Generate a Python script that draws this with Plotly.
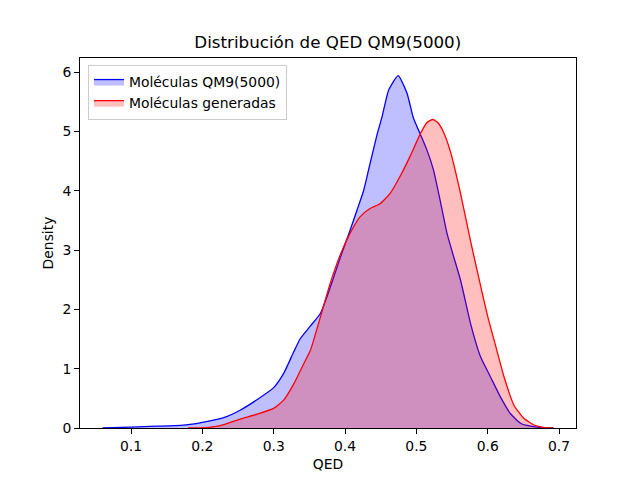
import plotly.graph_objects as go

# QED density estimates (x = QED, y = density)
qm9_x = [0.060, 0.100, 0.136, 0.170, 0.183, 0.202, 0.230, 0.253, 0.277, 0.300,
         0.314, 0.328, 0.337, 0.3515, 0.3655, 0.379, 0.393, 0.407, 0.417, 0.426,
         0.433, 0.445, 0.452, 0.461, 0.4745, 0.487, 0.496, 0.506, 0.515, 0.524,
         0.534, 0.543, 0.552, 0.562, 0.576, 0.590, 0.604, 0.618, 0.632, 0.646,
         0.660, 0.675, 0.692]
qm9_y = [0.000, 0.015, 0.030, 0.045, 0.060, 0.100, 0.175, 0.300, 0.480, 0.680,
         0.920, 1.280, 1.500, 1.720, 1.930, 2.360, 2.860, 3.330, 3.680, 4.000,
         4.350, 4.950, 5.250, 5.690, 5.940, 5.640, 5.220, 4.940, 4.680, 4.350,
         3.800, 3.280, 2.900, 2.490, 1.760, 1.200, 0.860, 0.520, 0.240, 0.080,
         0.030, 0.008, 0.000]

gen_x = [0.180, 0.205, 0.225, 0.253, 0.277, 0.300, 0.314, 0.328, 0.342, 0.3515,
         0.3655, 0.379, 0.393, 0.407, 0.421, 0.435, 0.449, 0.463, 0.478, 0.492,
         0.506, 0.515, 0.523, 0.530, 0.538, 0.548, 0.562, 0.576, 0.590, 0.600,
         0.609, 0.623, 0.637, 0.651, 0.665, 0.678, 0.692]
gen_y = [0.000, 0.008, 0.040, 0.150, 0.235, 0.330, 0.470, 0.740, 1.080, 1.310,
         1.870, 2.430, 2.910, 3.280, 3.560, 3.700, 3.780, 3.950, 4.260, 4.600,
         4.970, 5.150, 5.200, 5.150, 4.990, 4.650, 3.950, 3.150, 2.400, 1.880,
         1.480, 0.860, 0.380, 0.160, 0.050, 0.010, 0.000]

x_ticks = [0.1, 0.2, 0.3, 0.4, 0.5, 0.6, 0.7]
y_ticks = [0, 1, 2, 3, 4, 5, 6]

fig = go.Figure()
fig.add_trace(go.Scatter(
    x=qm9_x, y=qm9_y, mode="lines", name="Moléculas QM9(5000)",
    line=dict(color="#0000ff", width=1.3, shape="spline", smoothing=0.5),
    fill="tozeroy", fillcolor="rgba(0,0,255,0.25)",
))
fig.add_trace(go.Scatter(
    x=gen_x, y=gen_y, mode="lines", name="Moléculas generadas",
    line=dict(color="#ff0000", width=1.3, shape="spline", smoothing=0.5),
    fill="tozeroy", fillcolor="rgba(255,0,0,0.25)",
))

axis_style = dict(
    showline=True, linecolor="black", linewidth=1, mirror=True,
    ticks="outside", ticklen=5, tickcolor="black", showgrid=False, zeroline=False,
    tickfont=dict(size=13.9, color="black"), automargin=False,
)
fig.update_xaxes(title=dict(text="QED", font=dict(size=13.9, color="black"), standoff=6),
                 range=[0.0285, 0.7238], tickvals=x_ticks,
                 ticktext=[str(t) for t in x_ticks], **axis_style)
fig.update_yaxes(title=dict(text="Density", font=dict(size=13.9, color="black"), standoff=5),
                 range=[0, 6.237], tickvals=y_ticks, **axis_style)

# the page body adds an 8px offset, so the figure is sized and placed to compensate
fig.update_layout(
    width=632, height=472,
    font=dict(family="DejaVu Sans", color="black"),
    title=dict(text="Distribución de QED QM9(5000)", x=0.506, xanchor="center",
               y=0.928, yanchor="middle", font=dict(size=16.7, color="black")),
    margin=dict(l=72, r=64, t=50, b=52),
    plot_bgcolor="white", paper_bgcolor="white",
    legend=dict(x=0.016, y=0.981, xanchor="left", yanchor="top",
                bgcolor="rgba(255,255,255,0.8)", bordercolor="#cccccc", borderwidth=1,
                font=dict(size=13.9, color="black")),
    showlegend=True,
)

fig.write_html("out.html")
